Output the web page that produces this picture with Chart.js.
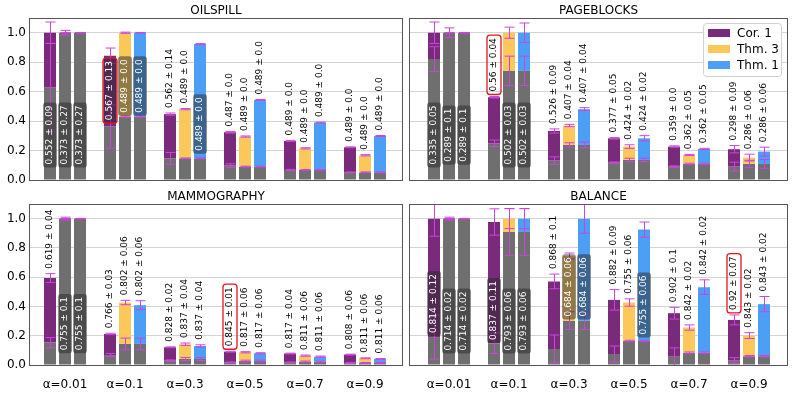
<!DOCTYPE html>
<html>
<head>
<meta charset="utf-8">
<script src="https://cdn.jsdelivr.net/npm/chart.js@4.4.0/dist/chart.umd.min.js"></script>
<style>
  body { margin: 0; background: #fff; }
  #wrap { position: relative; width: 793px; height: 397px; }
  .panel { position: absolute; }
</style>
</head>
<body>
<div id="wrap">
  <div class="panel" style="left:0;top:0"><canvas id="oil" width="406" height="192"></canvas></div>
  <div class="panel" style="left:406px;top:0"><canvas id="page" width="387" height="192"></canvas></div>
  <div class="panel" style="left:0;top:186px"><canvas id="mam" width="406" height="211"></canvas></div>
  <div class="panel" style="left:406px;top:186px"><canvas id="bal" width="387" height="211"></canvas></div>
</div>
<script>
const alphas = ['α=0.01', 'α=0.1', 'α=0.3', 'α=0.5', 'α=0.7', 'α=0.9'];
const methods = ['Cor. 1', 'Thm. 3', 'Thm. 1'];
const yTicks = [0, 0.2, 0.4, 0.6, 0.8, 1.0];

// rows: Cor. 1, Thm. 3, Thm. 1 / columns: alphas
// OILSPILL
const oilTop = [[1.0, 0.844, 0.447, 0.324, 0.265, 0.222], [1.0, 1.0, 0.481, 0.295, 0.215, 0.168], [1.0, 1.0, 0.923, 0.544, 0.39, 0.299]];
const oilTopErr = [[0.073, 0.052, 0.008, 0.006, 0.004, 0.003], [0.016, 0.004, 0.004, 0.004, 0.004, 0.004], [0.002, 0.002, 0.003, 0.003, 0.003, 0.003]];
const oilBase = [[0.628, 0.363, 0.147, 0.098, 0.068, 0.052], [1.0, 0.431, 0.147, 0.091, 0.068, 0.052], [1.0, 0.431, 0.147, 0.091, 0.068, 0.052]];
const oilBaseErr = [[0.3, 0.147, 0.04, 0.012, 0.004, 0.003], [0, 0.004, 0.003, 0.003, 0.003, 0.003], [0, 0.004, 0.003, 0.003, 0.003, 0.003]];
const oilMean = [[0.552, 0.567, 0.562, 0.487, 0.489, 0.489], [0.373, 0.489, 0.489, 0.489, 0.489, 0.489], [0.373, 0.489, 0.489, 0.489, 0.489, 0.489]];
const oilSd = [[0.09, 0.13, 0.14, 0.0, 0.0, 0.0], [0.27, 0.0, 0.0, 0.0, 0.0, 0.0], [0.27, 0.0, 0.0, 0.0, 0.0, 0.0]];

// PAGEBLOCKS
const pageTop = [[1.0, 0.562, 0.333, 0.283, 0.227, 0.209], [1.0, 1.0, 0.37, 0.227, 0.17, 0.152], [1.0, 1.0, 0.481, 0.283, 0.211, 0.193]];
const pageTopErr = [[0.073, 0.005, 0.014, 0.005, 0.005, 0.025], [0.033, 0.038, 0.008, 0.012, 0.004, 0.023], [0.002, 0.066, 0.01, 0.018, 0.004, 0.03]];
const pageBase = [[0.821, 0.249, 0.132, 0.118, 0.091, 0.091], [1.0, 0.741, 0.238, 0.136, 0.109, 0.109], [1.0, 0.741, 0.238, 0.136, 0.109, 0.109]];
const pageBaseErr = [[0.084, 0.022, 0.025, 0.005, 0.005, 0.03], [0, 0.1, 0.015, 0.012, 0.005, 0.025], [0, 0.1, 0.02, 0.012, 0.005, 0.03]];
const pageMean = [[0.335, 0.56, 0.526, 0.377, 0.359, 0.298], [0.289, 0.502, 0.407, 0.424, 0.362, 0.286], [0.289, 0.502, 0.407, 0.424, 0.362, 0.286]];
const pageSd = [[0.05, 0.04, 0.09, 0.05, 0.0, 0.09], [0.1, 0.03, 0.04, 0.02, 0.05, 0.06], [0.1, 0.03, 0.04, 0.02, 0.05, 0.06]];

// MAMMOGRAPHY
const mamTop = [[0.594, 0.212, 0.121, 0.091, 0.078, 0.071], [1.0, 0.427, 0.142, 0.087, 0.064, 0.046], [1.0, 0.409, 0.13, 0.08, 0.057, 0.041]];
const mamTopErr = [[0.03, 0.005, 0.003, 0.003, 0.003, 0.003], [0.01, 0.015, 0.008, 0.004, 0.004, 0.003], [0.002, 0.03, 0.008, 0.004, 0.004, 0.003]];
const mamBase = [[0.153, 0.068, 0.03, 0.018, 0.018, 0.014], [1.0, 0.144, 0.041, 0.027, 0.023, 0.014], [1.0, 0.144, 0.041, 0.027, 0.023, 0.014]];
const mamBaseErr = [[0.035, 0.01, 0.005, 0.003, 0.003, 0.003], [0, 0.04, 0.01, 0.006, 0.004, 0.003], [0, 0.04, 0.01, 0.006, 0.004, 0.003]];
const mamMean = [[0.619, 0.766, 0.828, 0.845, 0.817, 0.808], [0.755, 0.802, 0.837, 0.817, 0.811, 0.811], [0.755, 0.802, 0.837, 0.817, 0.811, 0.811]];
const mamSd = [[0.04, 0.03, 0.02, 0.01, 0.04, 0.06], [0.1, 0.06, 0.04, 0.06, 0.06, 0.06], [0.1, 0.06, 0.04, 0.06, 0.06, 0.06]];

// BALANCE
const balTop = [[1.0, 0.977, 0.571, 0.445, 0.354, 0.308], [1.0, 1.0, 0.745, 0.427, 0.256, 0.201], [1.0, 1.0, 1.0, 0.925, 0.532, 0.416]];
const balTopErr = [[0.12, 0.09, 0.05, 0.07, 0.04, 0.034], [0.01, 0.068, 0.02, 0.025, 0.018, 0.02], [0.002, 0.068, 0.1, 0.052, 0.05, 0.052]];
const balBase = [[0.19, 0.148, 0.11, 0.075, 0.057, 0.03], [1.0, 0.909, 0.303, 0.164, 0.084, 0.06], [1.0, 0.909, 0.303, 0.164, 0.084, 0.06]];
const balBaseErr = [[0.15, 0.07, 0.095, 0.055, 0.06, 0.02], [0, 0.16, 0.06, 0.005, 0.005, 0.005], [0, 0.16, 0.06, 0.005, 0.005, 0.005]];
const balMean = [[0.814, 0.837, 0.868, 0.882, 0.902, 0.92], [0.714, 0.793, 0.684, 0.755, 0.842, 0.843], [0.714, 0.793, 0.684, 0.755, 0.842, 0.843]];
const balSd = [[0.12, 0.11, 0.1, 0.09, 0.1, 0.07], [0.02, 0.06, 0.06, 0.06, 0.02, 0.02], [0.02, 0.06, 0.06, 0.06, 0.02, 0.02]];

// label placement (value where a label sits inside its bar, null = above the bar)
const oilBoxAt = [[0.306, 0.607, null, null, null, null], [0.306, 0.638, null, null, null, null], [0.306, 0.638, 0.38, null, null, null]];
const pageBoxAt = [[0.305, null, null, null, null, null], [0.305, 0.305, null, null, null, null], [0.305, 0.305, null, null, null, null]];
const mamBoxAt = [[null, null, null, null, null, null], [0.283, null, null, null, null, null], [0.283, null, null, null, null, null]];
const balBoxAt = [[0.42, 0.372, null, null, null, null], [0.30, 0.30, 0.534, null, null, null], [0.30, 0.30, 0.534, 0.41, null, null]];

const colors = ['#792a7b', '#fdc85a', '#4c9ff5'];
const grayCol = '#6f6f6f';
const errCol = '#cc44dd';

const panels = {
  oil: { title: 'OILSPILL', top: oilTop, topErr: oilTopErr, base: oilBase, baseErr: oilBaseErr, mean: oilMean, sd: oilSd, boxAt: oilBoxAt, best: [0, 1],
         yw: 29, showY: true, showX: false, pad: {top: 18, right: 3, bottom: 12, left: 0}, xmin: -0.6, xmax: 5.633 },
  page: { title: 'PAGEBLOCKS', top: pageTop, topErr: pageTopErr, base: pageBase, baseErr: pageBaseErr, mean: pageMean, sd: pageSd, boxAt: pageBoxAt, best: [0, 1],
         yw: 3, showY: false, showX: false, pad: {top: 18, right: 5, bottom: 12, left: 0}, xmin: -0.667, xmax: 5.65, legend: true },
  mam: { title: 'MAMMOGRAPHY', top: mamTop, topErr: mamTopErr, base: mamBase, baseErr: mamBaseErr, mean: mamMean, sd: mamSd, boxAt: mamBoxAt, best: [0, 3],
         yw: 29, showY: true, showX: true, pad: {top: 18, right: 3, bottom: 0, left: 0}, xmin: -0.6, xmax: 5.633 },
  bal: { title: 'BALANCE', top: balTop, topErr: balTopErr, base: balBase, baseErr: balBaseErr, mean: balMean, sd: balSd, boxAt: balBoxAt, best: [0, 5],
         yw: 3, showY: false, showX: true, pad: {top: 18, right: 5, bottom: 0, left: 0}, xmin: -0.667, xmax: 5.65 }
};

function fmt(v) {
  return Number.isInteger(v) ? v.toFixed(1) : String(v);
}

function rrect(ctx, x, y, w, h, r) {
  ctx.beginPath();
  ctx.moveTo(x + r, y);
  ctx.arcTo(x + w, y, x + w, y + h, r);
  ctx.arcTo(x + w, y + h, x, y + h, r);
  ctx.arcTo(x, y + h, x, y, r);
  ctx.arcTo(x, y, x + w, y, r);
  ctx.closePath();
}

function errBar(ctx, ys, x, v, e) {
  const y1 = ys.getPixelForValue(v - e), y2 = ys.getPixelForValue(v + e);
  ctx.beginPath();
  ctx.moveTo(x, y1); ctx.lineTo(x, y2);
  ctx.moveTo(x - 5, y1); ctx.lineTo(x + 5, y1);
  ctx.moveTo(x - 5, y2); ctx.lineTo(x + 5, y2);
  ctx.stroke();
}

const decor = {
  id: 'decor',
  afterDatasetsDraw(chart) {
    const p = panels[chart.canvas.id];
    const ctx = chart.ctx, a = chart.chartArea, ys = chart.scales.y;

    // error bars
    ctx.save();
    ctx.beginPath();
    ctx.rect(a.left, a.top, a.right - a.left, a.bottom - a.top);
    ctx.clip();
    ctx.strokeStyle = errCol;
    ctx.lineWidth = 1;
    for (let m = 0; m < 3; m++) {
      chart.getDatasetMeta(m * 2 + 1).data.forEach(function(bar, i) {
        const x = Math.round(bar.x) + 0.5;
        errBar(ctx, ys, x, p.top[m][i], p.topErr[m][i]);
        errBar(ctx, ys, x, p.base[m][i], p.baseErr[m][i]);
      });
    }
    ctx.restore();

    // frame
    ctx.save();
    ctx.strokeStyle = '#555';
    ctx.lineWidth = 1;
    ctx.strokeRect(a.left + 0.5, a.top + 0.5, a.right - a.left - 1, a.bottom - a.top);
    ctx.restore();

    // value labels
    ctx.save();
    ctx.font = '9px "DejaVu Sans"';
    ctx.textBaseline = 'middle';
    for (let m = 0; m < 3; m++) {
      chart.getDatasetMeta(m * 2 + 1).data.forEach(function(bar, i) {
        const txt = fmt(p.mean[m][i]) + ' ± ' + fmt(p.sd[m][i]);
        const w = ctx.measureText(txt).width;
        const bx = Math.round(bar.x);
        const best = p.best[0] === m && p.best[1] === i;
        const at = p.boxAt[m][i];
        if (at !== null) {
          const cy = ys.getPixelForValue(at);
          rrect(ctx, bx - 7, cy - w / 2 - 3, 14, w + 6, 3);
          ctx.fillStyle = 'rgba(40,40,40,0.5)';
          ctx.fill();
          if (best) { ctx.strokeStyle = '#e8141e'; ctx.lineWidth = 1.3; ctx.stroke(); }
          ctx.save();
          ctx.translate(bx, cy);
          ctx.rotate(-Math.PI / 2);
          ctx.textAlign = 'center';
          ctx.fillStyle = '#fff';
          ctx.fillText(txt, 0, 0);
          ctx.restore();
        } else {
          const yb = ys.getPixelForValue(p.top[m][i] + p.topErr[m][i]) - 5;
          if (best) {
            rrect(ctx, bx - 7, yb - w - 3, 14, w + 6, 3);
            ctx.strokeStyle = '#e8141e'; ctx.lineWidth = 1.3; ctx.stroke();
          }
          ctx.save();
          ctx.translate(bx, yb);
          ctx.rotate(-Math.PI / 2);
          ctx.textAlign = 'left';
          ctx.fillStyle = '#000';
          ctx.fillText(txt, 0, 0);
          ctx.restore();
        }
      });
    }
    ctx.restore();

    // title
    ctx.save();
    ctx.font = '12px "DejaVu Sans"';
    ctx.fillStyle = '#000';
    ctx.textAlign = 'center';
    ctx.textBaseline = 'middle';
    ctx.fillText(p.title, (a.left + a.right) / 2, a.top - 7);
    ctx.restore();

    // legend
    if (p.legend) {
      const lx = a.right - 85, ly = a.top + 5;
      ctx.save();
      rrect(ctx, lx + 0.5, ly + 0.5, 78, 53, 3);
      ctx.fillStyle = 'rgba(255,255,255,0.85)';
      ctx.fill();
      ctx.strokeStyle = '#d0d0d0';
      ctx.lineWidth = 1;
      ctx.stroke();
      ctx.font = '12px "DejaVu Sans"';
      ctx.textBaseline = 'middle';
      methods.forEach(function(name, m) {
        const cy = ly + 10 + m * 16;
        ctx.fillStyle = colors[m];
        ctx.fillRect(lx + 5, cy - 4, 22, 8);
        ctx.fillStyle = '#000';
        ctx.fillText(name, lx + 34, cy + 1);
      });
      ctx.restore();
    }
  }
};

function makeChart(id) {
  const p = panels[id];
  const datasets = [];
  for (let m = 0; m < 3; m++) {
    datasets.push({
      label: methods[m],
      stack: 's' + m,
      data: alphas.map(function(a, i) { return {x: i, y: [p.base[m][i], p.top[m][i]]}; }),
      backgroundColor: colors[m],
      categoryPercentage: 0.75,
      barPercentage: 0.8
    });
    datasets.push({
      label: methods[m] + ' base',
      stack: 's' + m,
      data: alphas.map(function(a, i) { return {x: i, y: p.base[m][i]}; }),
      backgroundColor: grayCol,
      categoryPercentage: 0.75,
      barPercentage: 0.8
    });
  }
  return new Chart(document.getElementById(id), {
    type: 'bar',
    data: { datasets: datasets },
    options: {
      responsive: false,
      animation: false,
      layout: { padding: p.pad },
      plugins: { legend: { display: false }, tooltip: { enabled: false } },
      scales: {
        x: {
          type: 'linear',
          offset: false,
          min: p.xmin,
          max: p.xmax,
          display: p.showX,
          grid: { display: false },
          border: { display: false },
          afterBuildTicks: function(s) { s.ticks = alphas.map(function(a, i) { return {value: i}; }); },
          afterFit: function(s) { s.height = p.showX ? 32 : 0; },
          ticks: {
            padding: 5,
            color: '#000',
            font: { family: 'DejaVu Sans', size: 12 },
            maxRotation: 0,
            callback: function(v) { return alphas[v]; }
          }
        },
        y: {
          stacked: false,
          min: 0,
          max: 1.1,
          grid: { color: '#d4d4d4', drawTicks: false },
          border: { display: false },
          afterBuildTicks: function(s) { s.ticks = yTicks.map(function(v) { return {value: v}; }); },
          afterFit: function(s) { s.width = p.yw; },
          ticks: {
            display: p.showY,
            padding: 3,
            color: '#000',
            font: { family: 'DejaVu Sans', size: 12 },
            callback: function(v) { return v.toFixed(1); }
          }
        }
      }
    },
    plugins: [decor]
  });
}

makeChart('oil');
makeChart('page');
makeChart('mam');
makeChart('bal');
</script>
</body>
</html>
